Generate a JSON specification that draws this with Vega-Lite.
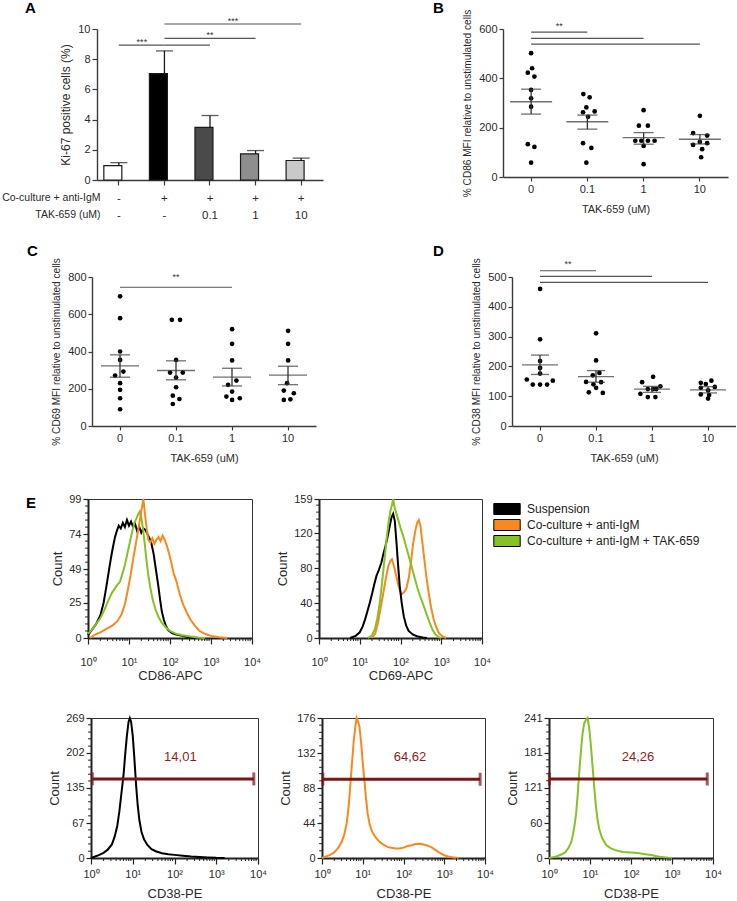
{
"$schema": "https://vega.github.io/schema/vega-lite/v6.json",
"padding": {"left": 0, "top": 0, "right": 0, "bottom": 0},
"config": {
  "font": "Liberation Sans",
  "view": {"stroke": null},
  "axis": {"grid": false, "labelOverlap": false, "labelFont": "Liberation Sans", "titleFont": "Liberation Sans", "titleFontWeight": "normal", "labelColor": "#2a2a2a", "titleColor": "#2a2a2a", "domainColor": "#3a3a3a", "tickColor": "#3a3a3a", "domainWidth": 1.4, "tickWidth": 1.2},
  "title": {"fontSize": 15, "fontWeight": "bold", "anchor": "start", "frame": "group", "color": "#000000", "offset": 0, "baseline": "alphabetic"}
},
"datasets": {
  "ki67": [
    {"group": "g1", "mean": 0.95, "upper": 1.15},
    {"group": "g2", "mean": 7.05, "upper": 8.55},
    {"group": "g3", "mean": 3.49, "upper": 4.27},
    {"group": "g4", "mean": 1.73, "upper": 1.95},
    {"group": "g5", "mean": 1.29, "upper": 1.45}
  ],
  "sig_a": [
    {"from": "g1", "to": "g2", "y": 8.93},
    {"from": "g2", "to": "g3", "y": 8.93},
    {"from": "g2", "to": "g4", "y": 9.38},
    {"from": "g2", "to": "g5", "y": 10.33}
  ],
  "cd86": [
    {"dose": "0", "value": 502, "jitter": 0}, {"dose": "0", "value": 441, "jitter": 0.1}, {"dose": "0", "value": 423, "jitter": -0.33}, {"dose": "0", "value": 407, "jitter": 0.33}, {"dose": "0", "value": 353, "jitter": 0}, {"dose": "0", "value": 319, "jitter": 0}, {"dose": "0", "value": 285, "jitter": 0}, {"dose": "0", "value": 133, "jitter": -0.33}, {"dose": "0", "value": 122, "jitter": 0.33}, {"dose": "0", "value": 58, "jitter": 0},
    {"dose": "0.1", "value": 336, "jitter": -0.4}, {"dose": "0.1", "value": 323, "jitter": 0.23}, {"dose": "0.1", "value": 282, "jitter": -0.1}, {"dose": "0.1", "value": 266, "jitter": 0.73}, {"dose": "0.1", "value": 262, "jitter": -0.43}, {"dose": "0.1", "value": 244, "jitter": 0.07}, {"dose": "0.1", "value": 137, "jitter": -0.43}, {"dose": "0.1", "value": 118, "jitter": 0.4}, {"dose": "0.1", "value": 58, "jitter": -0.1},
    {"dose": "1", "value": 271, "jitter": 0}, {"dose": "1", "value": 208, "jitter": -0.47}, {"dose": "1", "value": 208, "jitter": 0.43}, {"dose": "1", "value": 147, "jitter": -0.83}, {"dose": "1", "value": 147, "jitter": -0.23}, {"dose": "1", "value": 147, "jitter": 0.43}, {"dose": "1", "value": 147, "jitter": 1.1}, {"dose": "1", "value": 126, "jitter": 0}, {"dose": "1", "value": 52, "jitter": 0},
    {"dose": "10", "value": 248, "jitter": 0}, {"dose": "10", "value": 178, "jitter": -0.67}, {"dose": "10", "value": 168, "jitter": 0.73}, {"dose": "10", "value": 142, "jitter": 0}, {"dose": "10", "value": 137, "jitter": 0.73}, {"dose": "10", "value": 130, "jitter": -0.67}, {"dose": "10", "value": 113, "jitter": 0.23}, {"dose": "10", "value": 80, "jitter": 0.13}
  ],
  "cd86_stats": [
    {"dose": "0", "mean": 305, "lo": 255, "hi": 356},
    {"dose": "0.1", "mean": 224, "lo": 194, "hi": 251},
    {"dose": "1", "mean": 160, "lo": 133, "hi": 180},
    {"dose": "10", "mean": 153, "lo": 134, "hi": 172}
  ],
  "cd86_sig": [
    {"from": "0", "to": "0.1", "y": 587},
    {"from": "0", "to": "1", "y": 562},
    {"from": "0", "to": "10", "y": 539}
  ],
  "cd69": [
    {"dose": "0", "value": 696, "jitter": 0}, {"dose": "0", "value": 579, "jitter": 0}, {"dose": "0", "value": 400, "jitter": 0}, {"dose": "0", "value": 355, "jitter": 0}, {"dose": "0", "value": 292, "jitter": 0.33}, {"dose": "0", "value": 271, "jitter": -0.5}, {"dose": "0", "value": 230, "jitter": 0}, {"dose": "0", "value": 194, "jitter": 0}, {"dose": "0", "value": 149, "jitter": 0}, {"dose": "0", "value": 90, "jitter": 0},
    {"dose": "0.1", "value": 570, "jitter": -0.43}, {"dose": "0.1", "value": 570, "jitter": 0.4}, {"dose": "0.1", "value": 355, "jitter": 0}, {"dose": "0.1", "value": 287, "jitter": -0.6}, {"dose": "0.1", "value": 287, "jitter": 0.67}, {"dose": "0.1", "value": 260, "jitter": 0}, {"dose": "0.1", "value": 208, "jitter": 0}, {"dose": "0.1", "value": 163, "jitter": -0.33}, {"dose": "0.1", "value": 145, "jitter": 0.33}, {"dose": "0.1", "value": 118, "jitter": -0.33},
    {"dose": "1", "value": 520, "jitter": 0}, {"dose": "1", "value": 441, "jitter": 0}, {"dose": "1", "value": 352, "jitter": 0}, {"dose": "1", "value": 244, "jitter": 0.43}, {"dose": "1", "value": 221, "jitter": -0.4}, {"dose": "1", "value": 185, "jitter": 0}, {"dose": "1", "value": 158, "jitter": -0.57}, {"dose": "1", "value": 149, "jitter": 0.77}, {"dose": "1", "value": 140, "jitter": 0},
    {"dose": "10", "value": 511, "jitter": 0}, {"dose": "10", "value": 441, "jitter": 0}, {"dose": "10", "value": 352, "jitter": 0}, {"dose": "10", "value": 230, "jitter": -0.1}, {"dose": "10", "value": 190, "jitter": -0.43}, {"dose": "10", "value": 176, "jitter": 0.57}, {"dose": "10", "value": 140, "jitter": -0.43}, {"dose": "10", "value": 143, "jitter": 0.23}
  ],
  "cd69_stats": [
    {"dose": "0", "mean": 323, "lo": 262, "hi": 382},
    {"dose": "0.1", "mean": 298, "lo": 248, "hi": 350},
    {"dose": "1", "mean": 262, "lo": 215, "hi": 310},
    {"dose": "10", "mean": 273, "lo": 222, "hi": 321}
  ],
  "cd69_sig": [
    {"from": "0", "to": "1", "y": 745}
  ],
  "cd38": [
    {"dose": "0", "value": 460, "jitter": 0}, {"dose": "0", "value": 291, "jitter": 0}, {"dose": "0", "value": 218, "jitter": 0}, {"dose": "0", "value": 195, "jitter": 0}, {"dose": "0", "value": 176, "jitter": 0}, {"dose": "0", "value": 156, "jitter": -1.33}, {"dose": "0", "value": 152, "jitter": 1.27}, {"dose": "0", "value": 139, "jitter": -0.73}, {"dose": "0", "value": 139, "jitter": 0}, {"dose": "0", "value": 139, "jitter": 0.7},
    {"dose": "0.1", "value": 311, "jitter": 0}, {"dose": "0.1", "value": 220, "jitter": 0}, {"dose": "0.1", "value": 178, "jitter": 0.33}, {"dose": "0.1", "value": 170, "jitter": -0.33}, {"dose": "0.1", "value": 148, "jitter": -1.0}, {"dose": "0.1", "value": 147, "jitter": 0.5}, {"dose": "0.1", "value": 140, "jitter": -0.27}, {"dose": "0.1", "value": 128, "jitter": 0}, {"dose": "0.1", "value": 113, "jitter": -0.73}, {"dose": "0.1", "value": 111, "jitter": 0.67},
    {"dose": "1", "value": 165, "jitter": 0.1}, {"dose": "1", "value": 147, "jitter": -1.0}, {"dose": "1", "value": 133, "jitter": 0.83}, {"dose": "1", "value": 124, "jitter": -0.43}, {"dose": "1", "value": 124, "jitter": 0.1}, {"dose": "1", "value": 124, "jitter": 0.43}, {"dose": "1", "value": 108, "jitter": -1.17}, {"dose": "1", "value": 97, "jitter": -0.43}, {"dose": "1", "value": 97, "jitter": 0.33},
    {"dose": "10", "value": 152, "jitter": 0.33}, {"dose": "10", "value": 145, "jitter": -0.73}, {"dose": "10", "value": 141, "jitter": -0.23}, {"dose": "10", "value": 131, "jitter": 0.67}, {"dose": "10", "value": 128, "jitter": -0.73}, {"dose": "10", "value": 120, "jitter": 0}, {"dose": "10", "value": 106, "jitter": -0.73}, {"dose": "10", "value": 104, "jitter": 0.1}, {"dose": "10", "value": 92, "jitter": 0}
  ],
  "cd38_stats": [
    {"dose": "0", "mean": 205, "lo": 173, "hi": 238},
    {"dose": "0.1", "mean": 166, "lo": 147, "hi": 186},
    {"dose": "1", "mean": 124, "lo": 113, "hi": 133},
    {"dose": "10", "mean": 121, "lo": 111, "hi": 132}
  ],
  "cd38_sig": [
    {"from": "0", "to": "0.1", "y": 521},
    {"from": "0", "to": "1", "y": 502},
    {"from": "0", "to": "10", "y": 482}
  ],
  "minor_x": [
    {"v": 0.301}, {"v": 0.477}, {"v": 0.602}, {"v": 0.699}, {"v": 0.778}, {"v": 0.845}, {"v": 0.903}, {"v": 0.954},
    {"v": 1.301}, {"v": 1.477}, {"v": 1.602}, {"v": 1.699}, {"v": 1.778}, {"v": 1.845}, {"v": 1.903}, {"v": 1.954},
    {"v": 2.301}, {"v": 2.477}, {"v": 2.602}, {"v": 2.699}, {"v": 2.778}, {"v": 2.845}, {"v": 2.903}, {"v": 2.954},
    {"v": 3.301}, {"v": 3.477}, {"v": 3.602}, {"v": 3.699}, {"v": 3.778}, {"v": 3.845}, {"v": 3.903}, {"v": 3.954}
  ],
  "cd86_susp": [
    {"log_int": 0, "count": 2}, {"log_int": 0.1, "count": 6}, {"log_int": 0.2, "count": 10}, {"log_int": 0.3, "count": 16}, {"log_int": 0.38, "count": 25}, {"log_int": 0.45, "count": 37}, {"log_int": 0.51, "count": 48}, {"log_int": 0.56, "count": 57}, {"log_int": 0.61, "count": 65}, {"log_int": 0.66, "count": 72}, {"log_int": 0.7, "count": 76}, {"log_int": 0.75, "count": 80}, {"log_int": 0.8, "count": 78}, {"log_int": 0.85, "count": 82}, {"log_int": 0.9, "count": 79}, {"log_int": 0.95, "count": 84}, {"log_int": 1.0, "count": 80}, {"log_int": 1.05, "count": 83}, {"log_int": 1.1, "count": 79}, {"log_int": 1.15, "count": 81}, {"log_int": 1.2, "count": 76}, {"log_int": 1.25, "count": 79}, {"log_int": 1.3, "count": 75}, {"log_int": 1.35, "count": 78}, {"log_int": 1.4, "count": 77}, {"log_int": 1.45, "count": 74}, {"log_int": 1.5, "count": 71}, {"log_int": 1.55, "count": 67}, {"log_int": 1.6, "count": 60}, {"log_int": 1.64, "count": 52}, {"log_int": 1.68, "count": 44}, {"log_int": 1.72, "count": 36}, {"log_int": 1.76, "count": 27}, {"log_int": 1.8, "count": 19}, {"log_int": 1.85, "count": 13}, {"log_int": 1.9, "count": 8.5}, {"log_int": 1.96, "count": 5.5}, {"log_int": 2.05, "count": 3.5}, {"log_int": 2.15, "count": 2.5}, {"log_int": 2.3, "count": 1.5}, {"log_int": 2.45, "count": 0.6}, {"log_int": 2.6, "count": 0}
  ],
  "cd86_co": [
    {"log_int": 0.05, "count": 0}, {"log_int": 0.15, "count": 2}, {"log_int": 0.3, "count": 4}, {"log_int": 0.45, "count": 6.5}, {"log_int": 0.6, "count": 9}, {"log_int": 0.72, "count": 12}, {"log_int": 0.82, "count": 17}, {"log_int": 0.9, "count": 24}, {"log_int": 0.97, "count": 34}, {"log_int": 1.04, "count": 45}, {"log_int": 1.1, "count": 56}, {"log_int": 1.16, "count": 66}, {"log_int": 1.22, "count": 76}, {"log_int": 1.27, "count": 85}, {"log_int": 1.31, "count": 92}, {"log_int": 1.35, "count": 99}, {"log_int": 1.39, "count": 88}, {"log_int": 1.43, "count": 78}, {"log_int": 1.47, "count": 70}, {"log_int": 1.52, "count": 68}, {"log_int": 1.57, "count": 71}, {"log_int": 1.62, "count": 67}, {"log_int": 1.67, "count": 70}, {"log_int": 1.72, "count": 72}, {"log_int": 1.77, "count": 69}, {"log_int": 1.82, "count": 73}, {"log_int": 1.87, "count": 70}, {"log_int": 1.92, "count": 66}, {"log_int": 1.97, "count": 61}, {"log_int": 2.03, "count": 54}, {"log_int": 2.09, "count": 46}, {"log_int": 2.16, "count": 40}, {"log_int": 2.24, "count": 31}, {"log_int": 2.32, "count": 24}, {"log_int": 2.41, "count": 18}, {"log_int": 2.5, "count": 13}, {"log_int": 2.6, "count": 9}, {"log_int": 2.72, "count": 5}, {"log_int": 2.85, "count": 3}, {"log_int": 3.0, "count": 1.5}, {"log_int": 3.2, "count": 0.5}, {"log_int": 3.4, "count": 0}
  ],
  "cd86_tak": [
    {"log_int": 0, "count": 3}, {"log_int": 0.1, "count": 6}, {"log_int": 0.2, "count": 10}, {"log_int": 0.3, "count": 14}, {"log_int": 0.4, "count": 20}, {"log_int": 0.5, "count": 27}, {"log_int": 0.58, "count": 32}, {"log_int": 0.65, "count": 35}, {"log_int": 0.72, "count": 38}, {"log_int": 0.78, "count": 40}, {"log_int": 0.84, "count": 46}, {"log_int": 0.9, "count": 52}, {"log_int": 0.96, "count": 60}, {"log_int": 1.02, "count": 68}, {"log_int": 1.08, "count": 76}, {"log_int": 1.13, "count": 82}, {"log_int": 1.18, "count": 85}, {"log_int": 1.22, "count": 88}, {"log_int": 1.26, "count": 90}, {"log_int": 1.3, "count": 86}, {"log_int": 1.34, "count": 78}, {"log_int": 1.38, "count": 68}, {"log_int": 1.42, "count": 57}, {"log_int": 1.47, "count": 45}, {"log_int": 1.52, "count": 36}, {"log_int": 1.58, "count": 27}, {"log_int": 1.65, "count": 20}, {"log_int": 1.72, "count": 15}, {"log_int": 1.8, "count": 11}, {"log_int": 1.9, "count": 7.5}, {"log_int": 2.0, "count": 5}, {"log_int": 2.15, "count": 3}, {"log_int": 2.3, "count": 2}, {"log_int": 2.5, "count": 1}, {"log_int": 2.7, "count": 0.3}, {"log_int": 2.85, "count": 0}
  ],
  "cd69_susp": [
    {"log_int": 0.76, "count": 0}, {"log_int": 0.9, "count": 2.5}, {"log_int": 1.0, "count": 6.5}, {"log_int": 1.07, "count": 13}, {"log_int": 1.13, "count": 21}, {"log_int": 1.19, "count": 31}, {"log_int": 1.25, "count": 41}, {"log_int": 1.31, "count": 52}, {"log_int": 1.36, "count": 62}, {"log_int": 1.41, "count": 71}, {"log_int": 1.47, "count": 78}, {"log_int": 1.53, "count": 86}, {"log_int": 1.58, "count": 96}, {"log_int": 1.63, "count": 105}, {"log_int": 1.68, "count": 115}, {"log_int": 1.73, "count": 127}, {"log_int": 1.78, "count": 138}, {"log_int": 1.82, "count": 142}, {"log_int": 1.86, "count": 134}, {"log_int": 1.9, "count": 110}, {"log_int": 1.94, "count": 84}, {"log_int": 1.98, "count": 60}, {"log_int": 2.03, "count": 40}, {"log_int": 2.08, "count": 25}, {"log_int": 2.14, "count": 14}, {"log_int": 2.2, "count": 8}, {"log_int": 2.3, "count": 4}, {"log_int": 2.4, "count": 2}, {"log_int": 2.55, "count": 0.5}, {"log_int": 2.65, "count": 0}
  ],
  "cd69_co": [
    {"log_int": 1.3, "count": 0}, {"log_int": 1.38, "count": 5}, {"log_int": 1.45, "count": 18}, {"log_int": 1.51, "count": 34}, {"log_int": 1.58, "count": 52}, {"log_int": 1.64, "count": 68}, {"log_int": 1.7, "count": 82}, {"log_int": 1.75, "count": 88}, {"log_int": 1.79, "count": 90}, {"log_int": 1.84, "count": 82}, {"log_int": 1.9, "count": 70}, {"log_int": 1.96, "count": 58}, {"log_int": 2.02, "count": 50}, {"log_int": 2.08, "count": 52}, {"log_int": 2.14, "count": 56}, {"log_int": 2.2, "count": 68}, {"log_int": 2.26, "count": 88}, {"log_int": 2.31, "count": 108}, {"log_int": 2.36, "count": 122}, {"log_int": 2.41, "count": 132}, {"log_int": 2.45, "count": 135}, {"log_int": 2.49, "count": 128}, {"log_int": 2.53, "count": 112}, {"log_int": 2.58, "count": 92}, {"log_int": 2.63, "count": 72}, {"log_int": 2.69, "count": 52}, {"log_int": 2.75, "count": 35}, {"log_int": 2.81, "count": 22}, {"log_int": 2.88, "count": 12}, {"log_int": 2.95, "count": 5}, {"log_int": 3.03, "count": 2}, {"log_int": 3.12, "count": 0}
  ],
  "cd69_tak": [
    {"log_int": 1.2, "count": 0}, {"log_int": 1.3, "count": 3}, {"log_int": 1.37, "count": 10}, {"log_int": 1.43, "count": 22}, {"log_int": 1.49, "count": 40}, {"log_int": 1.54, "count": 60}, {"log_int": 1.58, "count": 78}, {"log_int": 1.63, "count": 100}, {"log_int": 1.67, "count": 118}, {"log_int": 1.71, "count": 133}, {"log_int": 1.75, "count": 145}, {"log_int": 1.79, "count": 152}, {"log_int": 1.82, "count": 159}, {"log_int": 1.85, "count": 150}, {"log_int": 1.89, "count": 144}, {"log_int": 1.94, "count": 136}, {"log_int": 2.0, "count": 126}, {"log_int": 2.07, "count": 116}, {"log_int": 2.14, "count": 104}, {"log_int": 2.2, "count": 94}, {"log_int": 2.27, "count": 82}, {"log_int": 2.34, "count": 70}, {"log_int": 2.41, "count": 58}, {"log_int": 2.48, "count": 48}, {"log_int": 2.56, "count": 38}, {"log_int": 2.64, "count": 27}, {"log_int": 2.72, "count": 17}, {"log_int": 2.79, "count": 9}, {"log_int": 2.86, "count": 4}, {"log_int": 2.94, "count": 1}, {"log_int": 3.0, "count": 0}
  ],
  "cd38_susp": [
    {"log_int": 0, "count": 0}, {"log_int": 0.1, "count": 3}, {"log_int": 0.2, "count": 6}, {"log_int": 0.3, "count": 10}, {"log_int": 0.4, "count": 16}, {"log_int": 0.5, "count": 26}, {"log_int": 0.57, "count": 42}, {"log_int": 0.63, "count": 62}, {"log_int": 0.68, "count": 90}, {"log_int": 0.73, "count": 125}, {"log_int": 0.78, "count": 160}, {"log_int": 0.82, "count": 200}, {"log_int": 0.86, "count": 235}, {"log_int": 0.9, "count": 262}, {"log_int": 0.93, "count": 269}, {"log_int": 0.96, "count": 262}, {"log_int": 1.0, "count": 235}, {"log_int": 1.04, "count": 190}, {"log_int": 1.08, "count": 140}, {"log_int": 1.12, "count": 100}, {"log_int": 1.16, "count": 72}, {"log_int": 1.21, "count": 50}, {"log_int": 1.27, "count": 36}, {"log_int": 1.35, "count": 25}, {"log_int": 1.45, "count": 17}, {"log_int": 1.55, "count": 13}, {"log_int": 1.7, "count": 9}, {"log_int": 1.85, "count": 7}, {"log_int": 2.0, "count": 6}, {"log_int": 2.2, "count": 4.5}, {"log_int": 2.4, "count": 3}, {"log_int": 2.6, "count": 2}, {"log_int": 2.8, "count": 1}, {"log_int": 3.0, "count": 0.3}, {"log_int": 3.2, "count": 0}
  ],
  "cd38_co": [
    {"log_int": 0, "count": 0}, {"log_int": 0.1, "count": 2}, {"log_int": 0.2, "count": 4}, {"log_int": 0.3, "count": 7}, {"log_int": 0.4, "count": 13}, {"log_int": 0.48, "count": 20}, {"log_int": 0.55, "count": 30}, {"log_int": 0.61, "count": 45}, {"log_int": 0.66, "count": 68}, {"log_int": 0.7, "count": 95}, {"log_int": 0.74, "count": 122}, {"log_int": 0.78, "count": 148}, {"log_int": 0.82, "count": 166}, {"log_int": 0.85, "count": 176}, {"log_int": 0.88, "count": 172}, {"log_int": 0.92, "count": 165}, {"log_int": 0.96, "count": 145}, {"log_int": 1.0, "count": 120}, {"log_int": 1.04, "count": 98}, {"log_int": 1.08, "count": 75}, {"log_int": 1.12, "count": 56}, {"log_int": 1.17, "count": 42}, {"log_int": 1.23, "count": 33}, {"log_int": 1.3, "count": 27}, {"log_int": 1.4, "count": 21}, {"log_int": 1.5, "count": 17}, {"log_int": 1.6, "count": 14}, {"log_int": 1.7, "count": 13}, {"log_int": 1.8, "count": 12}, {"log_int": 1.9, "count": 12}, {"log_int": 2.0, "count": 13}, {"log_int": 2.1, "count": 15}, {"log_int": 2.2, "count": 16}, {"log_int": 2.3, "count": 17.5}, {"log_int": 2.4, "count": 18}, {"log_int": 2.5, "count": 17}, {"log_int": 2.6, "count": 15.5}, {"log_int": 2.7, "count": 13}, {"log_int": 2.8, "count": 9.5}, {"log_int": 2.9, "count": 6}, {"log_int": 3.0, "count": 3.5}, {"log_int": 3.1, "count": 2}, {"log_int": 3.2, "count": 1}, {"log_int": 3.35, "count": 0}
  ],
  "cd38_tak": [
    {"log_int": 0, "count": 0}, {"log_int": 0.1, "count": 1.5}, {"log_int": 0.2, "count": 3}, {"log_int": 0.3, "count": 6}, {"log_int": 0.4, "count": 10}, {"log_int": 0.48, "count": 18}, {"log_int": 0.55, "count": 29}, {"log_int": 0.61, "count": 50}, {"log_int": 0.66, "count": 75}, {"log_int": 0.7, "count": 110}, {"log_int": 0.74, "count": 150}, {"log_int": 0.78, "count": 185}, {"log_int": 0.82, "count": 215}, {"log_int": 0.86, "count": 232}, {"log_int": 0.9, "count": 238}, {"log_int": 0.94, "count": 241}, {"log_int": 0.98, "count": 225}, {"log_int": 1.02, "count": 195}, {"log_int": 1.06, "count": 160}, {"log_int": 1.1, "count": 125}, {"log_int": 1.14, "count": 92}, {"log_int": 1.18, "count": 68}, {"log_int": 1.23, "count": 48}, {"log_int": 1.3, "count": 34}, {"log_int": 1.4, "count": 22}, {"log_int": 1.5, "count": 17}, {"log_int": 1.6, "count": 14}, {"log_int": 1.7, "count": 12}, {"log_int": 1.8, "count": 10.5}, {"log_int": 1.9, "count": 10}, {"log_int": 2.0, "count": 9.5}, {"log_int": 2.1, "count": 9}, {"log_int": 2.2, "count": 8}, {"log_int": 2.3, "count": 7}, {"log_int": 2.4, "count": 6}, {"log_int": 2.5, "count": 5}, {"log_int": 2.6, "count": 3.5}, {"log_int": 2.7, "count": 2.2}, {"log_int": 2.8, "count": 1.3}, {"log_int": 2.9, "count": 0.5}, {"log_int": 3.0, "count": 0}
  ]
},
"bounds": "full",
"spacing": 29,
"resolve": {"scale": {"fill": "independent"}, "legend": {"fill": "independent"}},
"vconcat": [
 {
  "bounds": "full",
  "spacing": 22,
  "resolve": {"scale": {"fill": "independent"}, "legend": {"fill": "independent"}},
  "vconcat": [
   {
    "bounds": "flush",
    "spacing": 0,
    "resolve": {"scale": {"fill": "independent"}, "legend": {"fill": "independent"}},
    "hconcat": [
     {"width": 97, "height": 1, "data": {"values": []}, "mark": "point"},
     {
      "width": 226, "height": 151,
      "title": {"text": "A", "dx": -72, "dy": 3},
      "layer": [
       {
        "data": {"name": "ki67"},
        "mark": {"type": "bar", "stroke": "#1a1a1a", "strokeWidth": 1.2},
        "encoding": {
         "x": {"field": "group", "type": "nominal", "scale": {"domain": ["g1", "g2", "g3", "g4", "g5"], "paddingInner": 0.34, "paddingOuter": 0.15},
               "axis": {"title": ["Co-culture + anti-IgM", "TAK-659 (uM)"], "titleAnchor": "start", "titleAlign": "right", "titleX": 3, "titleY": 12, "titleBaseline": "top", "titleLineHeight": 17, "titleFontSize": 10.5, "labelExpr": "datum.value == 'g1' ? ['-', '-'] : datum.value == 'g2' ? ['+', '-'] : datum.value == 'g3' ? ['+', '0.1'] : datum.value == 'g4' ? ['+', '1'] : ['+', '10']", "labelAngle": 0, "labelFontSize": 11.5, "labelLineHeight": 17, "labelPadding": 7, "tickSize": 5, "labelBaseline": "top"}},
         "y": {"field": "mean", "type": "quantitative", "scale": {"domain": [0, 10], "nice": false},
               "axis": {"title": "Ki-67 positive cells (%)", "values": [0, 2, 4, 6, 8, 10], "tickCount": 50, "format": "d", "titleFontSize": 12, "labelFontSize": 11, "tickSize": 5, "titlePadding": 5}},
         "fill": {"field": "group", "type": "nominal", "scale": {"domain": ["g1", "g2", "g3", "g4", "g5"], "range": ["#ffffff", "#000000", "#4a4a4a", "#8e8e8e", "#c9c9c9"]}, "legend": null}
        }
       },
       {
        "data": {"name": "ki67"},
        "mark": {"type": "rule", "color": "#1a1a1a", "strokeWidth": 1.3},
        "encoding": {
         "x": {"field": "group", "type": "nominal", "scale": {"domain": ["g1", "g2", "g3", "g4", "g5"], "paddingInner": 0.34, "paddingOuter": 0.15}},
         "y": {"field": "mean", "type": "quantitative", "scale": {"domain": [0, 10], "nice": false}},
         "y2": {"field": "upper"}
        }
       },
       {
        "data": {"name": "ki67"},
        "mark": {"type": "tick", "color": "#1a1a1a", "thickness": 1.3, "size": 17},
        "encoding": {
         "x": {"field": "group", "type": "nominal", "scale": {"domain": ["g1", "g2", "g3", "g4", "g5"], "paddingInner": 0.34, "paddingOuter": 0.15}},
         "y": {"field": "upper", "type": "quantitative", "scale": {"domain": [0, 10], "nice": false}}
        }
       },
       {
        "data": {"name": "sig_a"},
        "mark": {"type": "rule", "color": "#555555", "strokeWidth": 1.2},
        "encoding": {
         "x": {"field": "from", "type": "nominal", "scale": {"domain": ["g1", "g2", "g3", "g4", "g5"], "paddingInner": 0.34, "paddingOuter": 0.15}},
         "x2": {"field": "to"},
         "y": {"field": "y", "type": "quantitative", "scale": {"domain": [0, 10], "nice": false}}
        }
       },
       {
        "data": {"values": [{"g": "g1", "y": 9.17, "t": "***"}, {"g": "g3", "y": 10.55, "t": "***"}]},
        "mark": {"type": "text", "fontSize": 9, "dx": 23, "baseline": "middle", "color": "#333333"},
        "encoding": {
         "x": {"field": "g", "type": "nominal", "scale": {"domain": ["g1", "g2", "g3", "g4", "g5"], "paddingInner": 0.34, "paddingOuter": 0.15}},
         "y": {"field": "y", "type": "quantitative", "scale": {"domain": [0, 10], "nice": false}},
         "text": {"field": "t"}
        }
       },
       {
        "data": {"values": [{"g": "g3", "y": 9.6, "t": "**"}]},
        "mark": {"type": "text", "fontSize": 9, "baseline": "middle", "color": "#333333"},
        "encoding": {
         "x": {"field": "g", "type": "nominal", "scale": {"domain": ["g1", "g2", "g3", "g4", "g5"], "paddingInner": 0.34, "paddingOuter": 0.15}},
         "y": {"field": "y", "type": "quantitative", "scale": {"domain": [0, 10], "nice": false}},
         "text": {"field": "t"}
        }
       }
      ]
     },
     {"width": 180, "height": 1, "data": {"values": []}, "mark": "point"},
     {
      "width": 225, "height": 148,
      "title": {"text": "B", "dx": -70, "dy": 11},
      "layer": [
       {
        "data": {"name": "cd86"},
        "mark": {"type": "circle", "size": 22, "color": "#000000", "opacity": 1},
        "encoding": {
         "x": {"field": "dose", "type": "nominal", "scale": {"domain": ["0", "0.1", "1", "10"], "paddingInner": 0, "paddingOuter": 0},
               "axis": {"title": "TAK-659 (uM)", "labelAngle": 0, "labelFontSize": 11, "titleFontSize": 11, "tickSize": 4, "titlePadding": 9}},
         "xOffset": {"field": "jitter", "type": "quantitative", "scale": {"domain": [-1, 1], "range": [18.1, 38.1]}},
         "y": {"field": "value", "type": "quantitative", "scale": {"domain": [0, 600], "nice": false},
               "axis": {"title": "% CD86 MFI relative to unstimulated cells", "values": [0, 200, 400, 600], "tickCount": 50, "format": "d", "labelFontSize": 11, "titleFontSize": 10.1, "tickSize": 4, "titlePadding": 6}}
        }
       },
       {
        "mark": {"type": "rule", "strokeDash": [2, 2], "color": "#333333", "strokeWidth": 1.2},
        "encoding": {"y": {"datum": 100, "type": "quantitative", "scale": {"domain": [0, 600], "nice": false}}}
       },
       {
        "data": {"name": "cd86_stats"},
        "mark": {"type": "tick", "size": 42, "thickness": 1.3, "color": "#333333"},
        "encoding": {
         "x": {"field": "dose", "type": "nominal", "scale": {"domain": ["0", "0.1", "1", "10"], "paddingInner": 0, "paddingOuter": 0}},
         "y": {"field": "mean", "type": "quantitative", "scale": {"domain": [0, 600], "nice": false}}
        }
       },
       {
        "data": {"name": "cd86_stats"},
        "mark": {"type": "rule", "strokeWidth": 1.3, "color": "#333333"},
        "encoding": {
         "x": {"field": "dose", "type": "nominal", "scale": {"domain": ["0", "0.1", "1", "10"], "paddingInner": 0, "paddingOuter": 0}},
         "y": {"field": "lo", "type": "quantitative", "scale": {"domain": [0, 600], "nice": false}},
         "y2": {"field": "hi"}
        }
       },
       {
        "data": {"name": "cd86_stats"},
        "mark": {"type": "tick", "size": 20, "thickness": 1.3, "color": "#333333"},
        "encoding": {
         "x": {"field": "dose", "type": "nominal", "scale": {"domain": ["0", "0.1", "1", "10"], "paddingInner": 0, "paddingOuter": 0}},
         "y": {"field": "lo", "type": "quantitative", "scale": {"domain": [0, 600], "nice": false}}
        }
       },
       {
        "data": {"name": "cd86_stats"},
        "mark": {"type": "tick", "size": 20, "thickness": 1.3, "color": "#333333"},
        "encoding": {
         "x": {"field": "dose", "type": "nominal", "scale": {"domain": ["0", "0.1", "1", "10"], "paddingInner": 0, "paddingOuter": 0}},
         "y": {"field": "hi", "type": "quantitative", "scale": {"domain": [0, 600], "nice": false}}
        }
       },
       {
        "data": {"name": "cd86_sig"},
        "mark": {"type": "rule", "color": "#555555", "strokeWidth": 1.2},
        "encoding": {
         "x": {"field": "from", "type": "nominal", "scale": {"domain": ["0", "0.1", "1", "10"], "paddingInner": 0, "paddingOuter": 0}},
         "x2": {"field": "to"},
         "y": {"field": "y", "type": "quantitative", "scale": {"domain": [0, 600], "nice": false}}
        }
       },
       {
        "data": {"values": [{"g": "0", "y": 613, "t": "**"}]},
        "mark": {"type": "text", "fontSize": 9, "dx": 28, "baseline": "middle", "color": "#333333"},
        "encoding": {
         "x": {"field": "g", "type": "nominal", "scale": {"domain": ["0", "0.1", "1", "10"], "paddingInner": 0, "paddingOuter": 0}},
         "y": {"field": "y", "type": "quantitative", "scale": {"domain": [0, 600], "nice": false}},
         "text": {"field": "t"}
        }
       }
      ]
     }
    ]
   },
   {
    "bounds": "flush",
    "spacing": 0,
    "resolve": {"scale": {"fill": "independent"}, "legend": {"fill": "independent"}},
    "hconcat": [
     {"width": 92, "height": 1, "data": {"values": []}, "mark": "point"},
     {
      "width": 224, "height": 149,
      "title": {"text": "C", "dx": -65, "dy": 5},
      "layer": [
       {
        "data": {"name": "cd69"},
        "mark": {"type": "circle", "size": 22, "color": "#000000", "opacity": 1},
        "encoding": {
         "x": {"field": "dose", "type": "nominal", "scale": {"domain": ["0", "0.1", "1", "10"], "paddingInner": 0, "paddingOuter": 0},
               "axis": {"title": "TAK-659 (uM)", "labelAngle": 0, "labelFontSize": 11, "titleFontSize": 11, "tickSize": 4, "titlePadding": 9}},
         "xOffset": {"field": "jitter", "type": "quantitative", "scale": {"domain": [-1, 1], "range": [18, 38]}},
         "y": {"field": "value", "type": "quantitative", "scale": {"domain": [0, 800], "nice": false},
               "axis": {"title": "% CD69 MFI relative to unstimulated cells", "values": [0, 200, 400, 600, 800], "tickCount": 50, "format": "d", "labelFontSize": 11, "titleFontSize": 10.1, "tickSize": 4, "titlePadding": 6}}
        }
       },
       {
        "mark": {"type": "rule", "strokeDash": [2, 2], "color": "#333333", "strokeWidth": 1.2},
        "encoding": {"y": {"datum": 100, "type": "quantitative", "scale": {"domain": [0, 800], "nice": false}}}
       },
       {
        "data": {"name": "cd69_stats"},
        "mark": {"type": "tick", "size": 38, "thickness": 1.3, "color": "#333333"},
        "encoding": {
         "x": {"field": "dose", "type": "nominal", "scale": {"domain": ["0", "0.1", "1", "10"], "paddingInner": 0, "paddingOuter": 0}},
         "y": {"field": "mean", "type": "quantitative", "scale": {"domain": [0, 800], "nice": false}}
        }
       },
       {
        "data": {"name": "cd69_stats"},
        "mark": {"type": "rule", "strokeWidth": 1.3, "color": "#333333"},
        "encoding": {
         "x": {"field": "dose", "type": "nominal", "scale": {"domain": ["0", "0.1", "1", "10"], "paddingInner": 0, "paddingOuter": 0}},
         "y": {"field": "lo", "type": "quantitative", "scale": {"domain": [0, 800], "nice": false}},
         "y2": {"field": "hi"}
        }
       },
       {
        "data": {"name": "cd69_stats"},
        "mark": {"type": "tick", "size": 20, "thickness": 1.3, "color": "#333333"},
        "encoding": {
         "x": {"field": "dose", "type": "nominal", "scale": {"domain": ["0", "0.1", "1", "10"], "paddingInner": 0, "paddingOuter": 0}},
         "y": {"field": "lo", "type": "quantitative", "scale": {"domain": [0, 800], "nice": false}}
        }
       },
       {
        "data": {"name": "cd69_stats"},
        "mark": {"type": "tick", "size": 20, "thickness": 1.3, "color": "#333333"},
        "encoding": {
         "x": {"field": "dose", "type": "nominal", "scale": {"domain": ["0", "0.1", "1", "10"], "paddingInner": 0, "paddingOuter": 0}},
         "y": {"field": "hi", "type": "quantitative", "scale": {"domain": [0, 800], "nice": false}}
        }
       },
       {
        "data": {"name": "cd69_sig"},
        "mark": {"type": "rule", "color": "#555555", "strokeWidth": 1.2},
        "encoding": {
         "x": {"field": "from", "type": "nominal", "scale": {"domain": ["0", "0.1", "1", "10"], "paddingInner": 0, "paddingOuter": 0}},
         "x2": {"field": "to"},
         "y": {"field": "y", "type": "quantitative", "scale": {"domain": [0, 800], "nice": false}}
        }
       },
       {
        "data": {"values": [{"g": "0.1", "y": 798, "t": "**"}]},
        "mark": {"type": "text", "fontSize": 9, "baseline": "middle", "color": "#333333"},
        "encoding": {
         "x": {"field": "g", "type": "nominal", "scale": {"domain": ["0", "0.1", "1", "10"], "paddingInner": 0, "paddingOuter": 0}},
         "y": {"field": "y", "type": "quantitative", "scale": {"domain": [0, 800], "nice": false}},
         "text": {"field": "t"}
        }
       }
      ]
     },
     {"width": 196, "height": 1, "data": {"values": []}, "mark": "point"},
     {
      "width": 224, "height": 149,
      "title": {"text": "D", "dx": -79, "dy": 5},
      "layer": [
       {
        "data": {"name": "cd38"},
        "mark": {"type": "circle", "size": 22, "color": "#000000", "opacity": 1},
        "encoding": {
         "x": {"field": "dose", "type": "nominal", "scale": {"domain": ["0", "0.1", "1", "10"], "paddingInner": 0, "paddingOuter": 0},
               "axis": {"title": "TAK-659 (uM)", "labelAngle": 0, "labelFontSize": 11, "titleFontSize": 11, "tickSize": 4, "titlePadding": 9}},
         "xOffset": {"field": "jitter", "type": "quantitative", "scale": {"domain": [-1, 1], "range": [18, 38]}},
         "y": {"field": "value", "type": "quantitative", "scale": {"domain": [0, 500], "nice": false},
               "axis": {"title": "% CD38 MFI relative to unstimulated cells", "values": [0, 100, 200, 300, 400, 500], "tickCount": 50, "format": "d", "labelFontSize": 11, "titleFontSize": 10.1, "tickSize": 4, "titlePadding": 6}}
        }
       },
       {
        "mark": {"type": "rule", "strokeDash": [2, 2], "color": "#333333", "strokeWidth": 1.2},
        "encoding": {"y": {"datum": 100, "type": "quantitative", "scale": {"domain": [0, 500], "nice": false}}}
       },
       {
        "data": {"name": "cd38_stats"},
        "mark": {"type": "tick", "size": 36, "thickness": 1.3, "color": "#333333"},
        "encoding": {
         "x": {"field": "dose", "type": "nominal", "scale": {"domain": ["0", "0.1", "1", "10"], "paddingInner": 0, "paddingOuter": 0}},
         "y": {"field": "mean", "type": "quantitative", "scale": {"domain": [0, 500], "nice": false}}
        }
       },
       {
        "data": {"name": "cd38_stats"},
        "mark": {"type": "rule", "strokeWidth": 1.3, "color": "#333333"},
        "encoding": {
         "x": {"field": "dose", "type": "nominal", "scale": {"domain": ["0", "0.1", "1", "10"], "paddingInner": 0, "paddingOuter": 0}},
         "y": {"field": "lo", "type": "quantitative", "scale": {"domain": [0, 500], "nice": false}},
         "y2": {"field": "hi"}
        }
       },
       {
        "data": {"name": "cd38_stats"},
        "mark": {"type": "tick", "size": 18, "thickness": 1.3, "color": "#333333"},
        "encoding": {
         "x": {"field": "dose", "type": "nominal", "scale": {"domain": ["0", "0.1", "1", "10"], "paddingInner": 0, "paddingOuter": 0}},
         "y": {"field": "lo", "type": "quantitative", "scale": {"domain": [0, 500], "nice": false}}
        }
       },
       {
        "data": {"name": "cd38_stats"},
        "mark": {"type": "tick", "size": 18, "thickness": 1.3, "color": "#333333"},
        "encoding": {
         "x": {"field": "dose", "type": "nominal", "scale": {"domain": ["0", "0.1", "1", "10"], "paddingInner": 0, "paddingOuter": 0}},
         "y": {"field": "hi", "type": "quantitative", "scale": {"domain": [0, 500], "nice": false}}
        }
       },
       {
        "data": {"name": "cd38_sig"},
        "mark": {"type": "rule", "color": "#555555", "strokeWidth": 1.2},
        "encoding": {
         "x": {"field": "from", "type": "nominal", "scale": {"domain": ["0", "0.1", "1", "10"], "paddingInner": 0, "paddingOuter": 0}},
         "x2": {"field": "to"},
         "y": {"field": "y", "type": "quantitative", "scale": {"domain": [0, 500], "nice": false}}
        }
       },
       {
        "data": {"values": [{"g": "0", "y": 544, "t": "**"}]},
        "mark": {"type": "text", "fontSize": 9, "dx": 28, "baseline": "middle", "color": "#333333"},
        "encoding": {
         "x": {"field": "g", "type": "nominal", "scale": {"domain": ["0", "0.1", "1", "10"], "paddingInner": 0, "paddingOuter": 0}},
         "y": {"field": "y", "type": "quantitative", "scale": {"domain": [0, 500], "nice": false}},
         "text": {"field": "t"}
        }
       }
      ]
     }
    ]
   }
  ]
 },
 {
  "bounds": "full",
  "spacing": 28,
  "resolve": {"scale": {"fill": "independent"}, "legend": {"fill": "independent"}},
  "vconcat": [
   {
    "bounds": "flush",
    "spacing": 0,
    "resolve": {"scale": {"fill": "independent"}, "legend": {"fill": "independent"}},
    "hconcat": [
     {"width": 88, "height": 1, "data": {"values": []}, "mark": "point"},
     {
      "width": 164, "height": 139,
      "title": {"text": "E", "dx": -62, "dy": 22},
      "view": {"stroke": "#333333", "strokeWidth": 1},
      "layer": [
       {
        "data": {"name": "cd86_susp"},
        "mark": {"type": "line", "color": "#000000", "strokeWidth": 2},
        "encoding": {
         "x": {"field": "log_int", "type": "quantitative", "scale": {"domain": [0, 4], "nice": false},
               "axis": {"title": "CD86-APC", "values": [0, 1, 2, 3, 4], "tickCount": 50, "labelExpr": "datum.value == 0 ? '10⁰' : datum.value == 1 ? '10¹' : datum.value == 2 ? '10²' : datum.value == 3 ? '10³' : '10⁴'", "tickSize": 6, "labelFontSize": 11, "titleFontSize": 13, "labelPadding": 12, "titlePadding": 2, "labelFlush": false, "domainWidth": 2, "domainColor": "#222222", "tickColor": "#222222"}},
         "y": {"field": "count", "type": "quantitative", "scale": {"domain": [0, 99], "nice": false},
               "axis": {"title": "Count", "values": [0, 25, 49, 74, 99], "tickCount": 50, "format": "d", "tickSize": 5, "labelFontSize": 11, "titleFontSize": 13, "titlePadding": 4, "labelFlush": false, "domainWidth": 2, "domainColor": "#222222", "tickColor": "#222222"}}
        }
       },
       {
        "data": {"name": "minor_x"},
        "mark": {"type": "rule", "color": "#222222", "strokeWidth": 1},
        "encoding": {
         "x": {"field": "v", "type": "quantitative", "scale": {"domain": [0, 4], "nice": false}},
         "y": {"datum": 0, "type": "quantitative", "scale": {"domain": [0, 99], "nice": false}},
         "y2": {"datum": -2.2}
        }
       },
       {
        "data": {"values": [{"v": 5}, {"v": 10}, {"v": 15}, {"v": 20}, {"v": 30}, {"v": 35}, {"v": 40}, {"v": 45}, {"v": 54}, {"v": 59}, {"v": 64}, {"v": 69}, {"v": 79}, {"v": 84}, {"v": 89}, {"v": 94}]},
        "mark": {"type": "rule", "color": "#222222", "strokeWidth": 1},
        "encoding": {
         "y": {"field": "v", "type": "quantitative", "scale": {"domain": [0, 99], "nice": false}},
         "x": {"datum": 0, "type": "quantitative", "scale": {"domain": [0, 4], "nice": false}},
         "x2": {"datum": -0.07}
        }
       },
       {
        "data": {"name": "cd86_tak"},
        "mark": {"type": "line", "color": "#84c225", "strokeWidth": 2},
        "encoding": {
         "x": {"field": "log_int", "type": "quantitative", "scale": {"domain": [0, 4], "nice": false}},
         "y": {"field": "count", "type": "quantitative", "scale": {"domain": [0, 99], "nice": false}}
        }
       },
       {
        "data": {"name": "cd86_co"},
        "mark": {"type": "line", "color": "#f7891f", "strokeWidth": 2},
        "encoding": {
         "x": {"field": "log_int", "type": "quantitative", "scale": {"domain": [0, 4], "nice": false}},
         "y": {"field": "count", "type": "quantitative", "scale": {"domain": [0, 99], "nice": false}}
        }
       }
      ]
     },
     {"width": 67, "height": 1, "data": {"values": []}, "mark": "point"},
     {
      "width": 163, "height": 139,
      "view": {"stroke": "#333333", "strokeWidth": 1},
      "layer": [
       {
        "data": {"name": "cd69_co"},
        "mark": {"type": "line", "color": "#f7891f", "strokeWidth": 2},
        "encoding": {
         "x": {"field": "log_int", "type": "quantitative", "scale": {"domain": [0, 4], "nice": false},
               "axis": {"title": "CD69-APC", "values": [0, 1, 2, 3, 4], "tickCount": 50, "labelExpr": "datum.value == 0 ? '10⁰' : datum.value == 1 ? '10¹' : datum.value == 2 ? '10²' : datum.value == 3 ? '10³' : '10⁴'", "tickSize": 6, "labelFontSize": 11, "titleFontSize": 13, "labelPadding": 12, "titlePadding": 2, "labelFlush": false, "domainWidth": 2, "domainColor": "#222222", "tickColor": "#222222"}},
         "y": {"field": "count", "type": "quantitative", "scale": {"domain": [0, 159], "nice": false},
               "axis": {"title": "Count", "values": [0, 40, 80, 120, 159], "tickCount": 50, "format": "d", "tickSize": 5, "labelFontSize": 11, "titleFontSize": 13, "titlePadding": 4, "labelFlush": false, "domainWidth": 2, "domainColor": "#222222", "tickColor": "#222222"}}
        }
       },
       {
        "data": {"name": "minor_x"},
        "mark": {"type": "rule", "color": "#222222", "strokeWidth": 1},
        "encoding": {
         "x": {"field": "v", "type": "quantitative", "scale": {"domain": [0, 4], "nice": false}},
         "y": {"datum": 0, "type": "quantitative", "scale": {"domain": [0, 159], "nice": false}},
         "y2": {"datum": -3.5}
        }
       },
       {
        "data": {"values": [{"v": 8}, {"v": 16}, {"v": 24}, {"v": 32}, {"v": 48}, {"v": 56}, {"v": 64}, {"v": 72}, {"v": 88}, {"v": 96}, {"v": 104}, {"v": 112}, {"v": 128}, {"v": 136}, {"v": 144}, {"v": 152}]},
        "mark": {"type": "rule", "color": "#222222", "strokeWidth": 1},
        "encoding": {
         "y": {"field": "v", "type": "quantitative", "scale": {"domain": [0, 159], "nice": false}},
         "x": {"datum": 0, "type": "quantitative", "scale": {"domain": [0, 4], "nice": false}},
         "x2": {"datum": -0.07}
        }
       },
       {
        "data": {"name": "cd69_susp"},
        "mark": {"type": "line", "color": "#000000", "strokeWidth": 2},
        "encoding": {
         "x": {"field": "log_int", "type": "quantitative", "scale": {"domain": [0, 4], "nice": false}},
         "y": {"field": "count", "type": "quantitative", "scale": {"domain": [0, 159], "nice": false}}
        }
       },
       {
        "data": {"name": "cd69_tak"},
        "mark": {"type": "line", "color": "#84c225", "strokeWidth": 2},
        "encoding": {
         "x": {"field": "log_int", "type": "quantitative", "scale": {"domain": [0, 4], "nice": false}},
         "y": {"field": "count", "type": "quantitative", "scale": {"domain": [0, 159], "nice": false}}
        }
       },
       {
        "data": {"values": [{"sample": "Suspension"}, {"sample": "Co-culture + anti-IgM"}, {"sample": "Co-culture + anti-IgM + TAK-659"}]},
        "transform": [{"filter": "false"}],
        "mark": {"type": "square", "stroke": "#000000", "strokeWidth": 1, "opacity": 1, "filled": true},
        "encoding": {
         "fill": {"field": "sample", "type": "nominal", "scale": {"domain": ["Suspension", "Co-culture + anti-IgM", "Co-culture + anti-IgM + TAK-659"], "range": ["#000000", "#f7891f", "#84c225"]},
                  "legend": {"title": null, "orient": "none", "legendX": 182, "legendY": 4, "symbolType": "M-2.4,-1H2.4V1H-2.4Z", "symbolSize": 121, "symbolStrokeColor": "#000000", "symbolStrokeWidth": 1, "symbolOpacity": 1, "labelFontSize": 12, "labelColor": "#222222", "labelOffset": 14, "rowPadding": 0, "padding": 0, "labelLimit": 400}}
        }
       }
      ]
     }
    ]
   },
   {
    "bounds": "flush",
    "spacing": 0,
    "resolve": {"scale": {"fill": "independent"}, "legend": {"fill": "independent"}},
    "hconcat": [
     {"width": 91, "height": 1, "data": {"values": []}, "mark": "point"},
     {
      "width": 167, "height": 140,
      "view": {"stroke": "#333333", "strokeWidth": 1},
      "layer": [
       {
        "data": {"name": "cd38_susp"},
        "mark": {"type": "line", "color": "#000000", "strokeWidth": 2},
        "encoding": {
         "x": {"field": "log_int", "type": "quantitative", "scale": {"domain": [0, 4], "nice": false},
               "axis": {"title": "CD38-PE", "values": [0, 1, 2, 3, 4], "tickCount": 50, "labelExpr": "datum.value == 0 ? '10⁰' : datum.value == 1 ? '10¹' : datum.value == 2 ? '10²' : datum.value == 3 ? '10³' : '10⁴'", "tickSize": 6, "labelFontSize": 11, "titleFontSize": 13, "labelPadding": 4, "titlePadding": 8, "labelFlush": false, "domainWidth": 2, "domainColor": "#222222", "tickColor": "#222222"}},
         "y": {"field": "count", "type": "quantitative", "scale": {"domain": [0, 269], "nice": false},
               "axis": {"title": "Count", "values": [0, 67, 135, 202, 269], "tickCount": 50, "format": "d", "tickSize": 5, "labelFontSize": 11, "titleFontSize": 13, "titlePadding": 4, "labelFlush": false, "domainWidth": 2, "domainColor": "#222222", "tickColor": "#222222"}}
        }
       },
       {
        "data": {"name": "minor_x"},
        "mark": {"type": "rule", "color": "#222222", "strokeWidth": 1},
        "encoding": {
         "x": {"field": "v", "type": "quantitative", "scale": {"domain": [0, 4], "nice": false}},
         "y": {"datum": 0, "type": "quantitative", "scale": {"domain": [0, 269], "nice": false}},
         "y2": {"datum": -5.8}
        }
       },
       {
        "data": {"values": [{"v": 13}, {"v": 27}, {"v": 40}, {"v": 54}, {"v": 81}, {"v": 94}, {"v": 108}, {"v": 121}, {"v": 148}, {"v": 161}, {"v": 175}, {"v": 188}, {"v": 215}, {"v": 229}, {"v": 242}, {"v": 256}]},
        "mark": {"type": "rule", "color": "#222222", "strokeWidth": 1},
        "encoding": {
         "y": {"field": "v", "type": "quantitative", "scale": {"domain": [0, 269], "nice": false}},
         "x": {"datum": 0, "type": "quantitative", "scale": {"domain": [0, 4], "nice": false}},
         "x2": {"datum": -0.07}
        }
       },
       {
        "data": {"values": [{"lo": 0.03, "hi": 3.9, "y": 152}]},
        "mark": {"type": "rule", "color": "#7b1616", "strokeWidth": 3},
        "encoding": {
         "x": {"field": "lo", "type": "quantitative", "scale": {"domain": [0, 4], "nice": false}},
         "x2": {"field": "hi"},
         "y": {"field": "y", "type": "quantitative", "scale": {"domain": [0, 269], "nice": false}}
        }
       },
       {
        "data": {"values": [{"x": 0.03, "y": 152}, {"x": 3.9, "y": 152}]},
        "mark": {"type": "tick", "orient": "vertical", "size": 13, "thickness": 3, "color": "#7b1616"},
        "encoding": {
         "x": {"field": "x", "type": "quantitative", "scale": {"domain": [0, 4], "nice": false}},
         "y": {"field": "y", "type": "quantitative", "scale": {"domain": [0, 269], "nice": false}}
        }
       },
       {
        "data": {"values": [{"x": 2.14, "y": 194, "label": "14,01"}]},
        "mark": {"type": "text", "fontSize": 13, "color": "#8b1e1e", "baseline": "middle"},
        "encoding": {
         "x": {"field": "x", "type": "quantitative", "scale": {"domain": [0, 4], "nice": false}},
         "y": {"field": "y", "type": "quantitative", "scale": {"domain": [0, 269], "nice": false}},
         "text": {"field": "label"}
        }
       }
      ]
     },
     {"width": 64, "height": 1, "data": {"values": []}, "mark": "point"},
     {
      "width": 163, "height": 140,
      "view": {"stroke": "#333333", "strokeWidth": 1},
      "layer": [
       {
        "data": {"name": "cd38_co"},
        "mark": {"type": "line", "color": "#f7891f", "strokeWidth": 2},
        "encoding": {
         "x": {"field": "log_int", "type": "quantitative", "scale": {"domain": [0, 4], "nice": false},
               "axis": {"title": "CD38-PE", "values": [0, 1, 2, 3, 4], "tickCount": 50, "labelExpr": "datum.value == 0 ? '10⁰' : datum.value == 1 ? '10¹' : datum.value == 2 ? '10²' : datum.value == 3 ? '10³' : '10⁴'", "tickSize": 6, "labelFontSize": 11, "titleFontSize": 13, "labelPadding": 4, "titlePadding": 8, "labelFlush": false, "domainWidth": 2, "domainColor": "#222222", "tickColor": "#222222"}},
         "y": {"field": "count", "type": "quantitative", "scale": {"domain": [0, 176], "nice": false},
               "axis": {"title": "Count", "values": [0, 44, 88, 132, 176], "tickCount": 50, "format": "d", "tickSize": 5, "labelFontSize": 11, "titleFontSize": 13, "titlePadding": 4, "labelFlush": false, "domainWidth": 2, "domainColor": "#222222", "tickColor": "#222222"}}
        }
       },
       {
        "data": {"name": "minor_x"},
        "mark": {"type": "rule", "color": "#222222", "strokeWidth": 1},
        "encoding": {
         "x": {"field": "v", "type": "quantitative", "scale": {"domain": [0, 4], "nice": false}},
         "y": {"datum": 0, "type": "quantitative", "scale": {"domain": [0, 176], "nice": false}},
         "y2": {"datum": -3.8}
        }
       },
       {
        "data": {"values": [{"v": 9}, {"v": 18}, {"v": 26}, {"v": 35}, {"v": 53}, {"v": 62}, {"v": 70}, {"v": 79}, {"v": 97}, {"v": 106}, {"v": 114}, {"v": 123}, {"v": 141}, {"v": 150}, {"v": 158}, {"v": 167}]},
        "mark": {"type": "rule", "color": "#222222", "strokeWidth": 1},
        "encoding": {
         "y": {"field": "v", "type": "quantitative", "scale": {"domain": [0, 176], "nice": false}},
         "x": {"datum": 0, "type": "quantitative", "scale": {"domain": [0, 4], "nice": false}},
         "x2": {"datum": -0.07}
        }
       },
       {
        "data": {"values": [{"lo": 0.02, "hi": 3.88, "y": 99}]},
        "mark": {"type": "rule", "color": "#7b1616", "strokeWidth": 3},
        "encoding": {
         "x": {"field": "lo", "type": "quantitative", "scale": {"domain": [0, 4], "nice": false}},
         "x2": {"field": "hi"},
         "y": {"field": "y", "type": "quantitative", "scale": {"domain": [0, 176], "nice": false}}
        }
       },
       {
        "data": {"values": [{"x": 0.02, "y": 99}, {"x": 3.88, "y": 99}]},
        "mark": {"type": "tick", "orient": "vertical", "size": 13, "thickness": 3, "color": "#7b1616"},
        "encoding": {
         "x": {"field": "x", "type": "quantitative", "scale": {"domain": [0, 4], "nice": false}},
         "y": {"field": "y", "type": "quantitative", "scale": {"domain": [0, 176], "nice": false}}
        }
       },
       {
        "data": {"values": [{"x": 2.16, "y": 127, "label": "64,62"}]},
        "mark": {"type": "text", "fontSize": 13, "color": "#8b1e1e", "baseline": "middle"},
        "encoding": {
         "x": {"field": "x", "type": "quantitative", "scale": {"domain": [0, 4], "nice": false}},
         "y": {"field": "y", "type": "quantitative", "scale": {"domain": [0, 176], "nice": false}},
         "text": {"field": "label"}
        }
       }
      ]
     },
     {"width": 64, "height": 1, "data": {"values": []}, "mark": "point"},
     {
      "width": 164, "height": 140,
      "view": {"stroke": "#333333", "strokeWidth": 1},
      "layer": [
       {
        "data": {"name": "cd38_tak"},
        "mark": {"type": "line", "color": "#84c225", "strokeWidth": 2},
        "encoding": {
         "x": {"field": "log_int", "type": "quantitative", "scale": {"domain": [0, 4], "nice": false},
               "axis": {"title": "CD38-PE", "values": [0, 1, 2, 3, 4], "tickCount": 50, "labelExpr": "datum.value == 0 ? '10⁰' : datum.value == 1 ? '10¹' : datum.value == 2 ? '10²' : datum.value == 3 ? '10³' : '10⁴'", "tickSize": 6, "labelFontSize": 11, "titleFontSize": 13, "labelPadding": 4, "titlePadding": 8, "labelFlush": false, "domainWidth": 2, "domainColor": "#222222", "tickColor": "#222222"}},
         "y": {"field": "count", "type": "quantitative", "scale": {"domain": [0, 241], "nice": false},
               "axis": {"title": "Count", "values": [0, 60, 121, 181, 241], "tickCount": 50, "format": "d", "tickSize": 5, "labelFontSize": 11, "titleFontSize": 13, "titlePadding": 4, "labelFlush": false, "domainWidth": 2, "domainColor": "#222222", "tickColor": "#222222"}}
        }
       },
       {
        "data": {"name": "minor_x"},
        "mark": {"type": "rule", "color": "#222222", "strokeWidth": 1},
        "encoding": {
         "x": {"field": "v", "type": "quantitative", "scale": {"domain": [0, 4], "nice": false}},
         "y": {"datum": 0, "type": "quantitative", "scale": {"domain": [0, 241], "nice": false}},
         "y2": {"datum": -5.2}
        }
       },
       {
        "data": {"values": [{"v": 12}, {"v": 24}, {"v": 36}, {"v": 48}, {"v": 72}, {"v": 85}, {"v": 97}, {"v": 109}, {"v": 133}, {"v": 145}, {"v": 157}, {"v": 169}, {"v": 193}, {"v": 205}, {"v": 217}, {"v": 229}]},
        "mark": {"type": "rule", "color": "#222222", "strokeWidth": 1},
        "encoding": {
         "y": {"field": "v", "type": "quantitative", "scale": {"domain": [0, 241], "nice": false}},
         "x": {"datum": 0, "type": "quantitative", "scale": {"domain": [0, 4], "nice": false}},
         "x2": {"datum": -0.07}
        }
       },
       {
        "data": {"values": [{"lo": 0.01, "hi": 3.86, "y": 136}]},
        "mark": {"type": "rule", "color": "#7b1616", "strokeWidth": 3},
        "encoding": {
         "x": {"field": "lo", "type": "quantitative", "scale": {"domain": [0, 4], "nice": false}},
         "x2": {"field": "hi"},
         "y": {"field": "y", "type": "quantitative", "scale": {"domain": [0, 241], "nice": false}}
        }
       },
       {
        "data": {"values": [{"x": 0.01, "y": 136}, {"x": 3.86, "y": 136}]},
        "mark": {"type": "tick", "orient": "vertical", "size": 13, "thickness": 3, "color": "#7b1616"},
        "encoding": {
         "x": {"field": "x", "type": "quantitative", "scale": {"domain": [0, 4], "nice": false}},
         "y": {"field": "y", "type": "quantitative", "scale": {"domain": [0, 241], "nice": false}}
        }
       },
       {
        "data": {"values": [{"x": 2.17, "y": 174, "label": "24,26"}]},
        "mark": {"type": "text", "fontSize": 13, "color": "#8b1e1e", "baseline": "middle"},
        "encoding": {
         "x": {"field": "x", "type": "quantitative", "scale": {"domain": [0, 4], "nice": false}},
         "y": {"field": "y", "type": "quantitative", "scale": {"domain": [0, 241], "nice": false}},
         "text": {"field": "label"}
        }
       }
      ]
     }
    ]
   }
  ]
 }
]
}
